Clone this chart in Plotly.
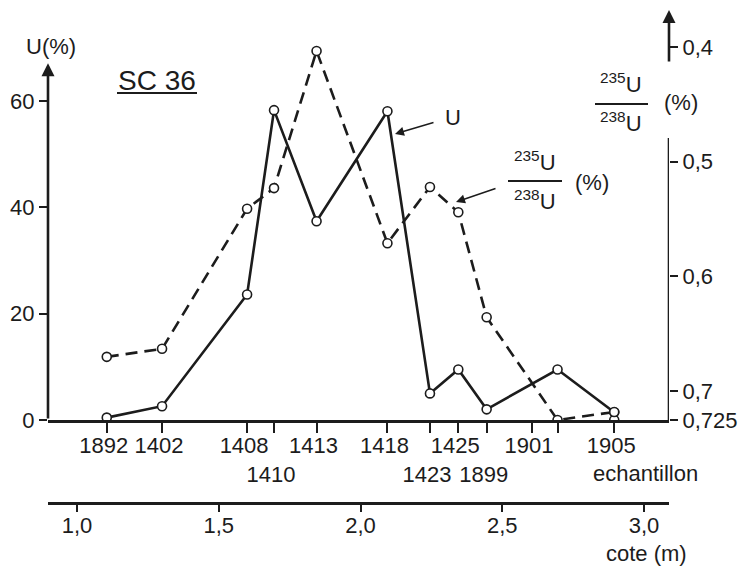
import plotly.graph_objects as go

# ---------------- data ----------------
depth_m = [1.105, 1.30, 1.60, 1.695, 1.845, 2.095, 2.245, 2.345, 2.445, 2.695, 2.895]
u_pct = [0.45, 2.6, 23.6, 58.3, 37.4, 58.1, 5.0, 9.5, 2.0, 9.5, 1.45]
ratio_pct = [0.670, 0.663, 0.541, 0.523, 0.4036, 0.571, 0.522, 0.544, 0.6355, 0.725, 0.718]
extra_x = [2.895]
extra_u = [0.0]

sample_ticks = [1.105, 1.30, 1.60, 1.695, 1.845, 2.095, 2.245, 2.345, 2.445, 2.605, 2.695, 2.895]
sample_labels = ["1892", "1402", "1408", "<br>1410", "1413", "1418", "<br>1423",
                 "1425", "<br>1899", "1901", "", "1905"]
u_ticks = [0, 20, 40, 60]
ratio_ticks = [0.4, 0.5, 0.6, 0.7, 0.725]
ratio_labels = ["0,4", "0,5", "0,6", "0,7", "0,725"]
cote_ticks = [1.0, 1.5, 2.0, 2.5, 3.0]
cote_labels = ["1,0", "1,5", "2,0", "2,5", "3,0"]

X_RANGE = [0.8977, 3.0882]
U_RANGE = [0, 77.14]
R_RANGE = [0.725, 0.3679]

INK = "#1c1c1c"
FONT = "Liberation Sans, Arial, sans-serif"
W, H = 741, 566
ML, MR, MT, MB = 48, 72, 10, 10
PW, PH = W - ML - MR, H - MT - MB


def xp(px):
    return (px - ML) / PW


def yp(py):
    return (H - MB - py) / PH


fig = go.Figure()

fig.add_trace(go.Scatter(
    x=depth_m, y=ratio_pct, yaxis="y2", mode="lines+markers",
    line=dict(color=INK, width=2.6, dash="12px,7px"),
    marker=dict(symbol="circle", size=9, color="white", line=dict(color=INK, width=1.6)),
    hoverinfo="skip", showlegend=False))
fig.add_trace(go.Scatter(
    x=depth_m, y=u_pct, mode="lines+markers",
    line=dict(color=INK, width=2.6),
    marker=dict(symbol="circle", size=9, color="white", line=dict(color=INK, width=1.6)),
    hoverinfo="skip", showlegend=False))
fig.add_trace(go.Scatter(
    x=extra_x, y=extra_u, mode="markers",
    marker=dict(symbol="circle", size=9, color="white", line=dict(color=INK, width=1.6)),
    hoverinfo="skip", showlegend=False))
# dummy trace so the depth axis is drawn
fig.add_trace(go.Scatter(x=[1.0], y=[0], xaxis="x2", mode="markers",
                         marker=dict(opacity=0), hoverinfo="skip", showlegend=False))

ydom0 = yp(420)
tickfont = dict(family=FONT, size=22, color=INK)

fig.update_layout(
    width=W, height=H,
    margin=dict(l=ML, r=MR, t=MT, b=MB, autoexpand=False),
    paper_bgcolor="white", plot_bgcolor="white",
    font=dict(family=FONT, size=22, color=INK),
    xaxis=dict(range=X_RANGE, domain=[0, 1], anchor="y",
               tickvals=sample_ticks, ticktext=sample_labels, tickangle=0,
               ticks="outside", ticklen=10, tickwidth=2, tickcolor=INK,
               showline=True, linewidth=2.6, linecolor=INK,
               showgrid=False, zeroline=False, tickfont=tickfont,
               ticklabelshift=-3, ticklabelstandoff=-6, automargin=False),
    xaxis2=dict(range=X_RANGE, domain=[0, 1], anchor="free", position=yp(503),
                overlaying="x", side="bottom", tickangle=0,
                tickvals=cote_ticks, ticktext=cote_labels,
                ticks="outside", ticklen=7, tickwidth=2, tickcolor=INK,
                showline=True, linewidth=2.6, linecolor=INK,
                showgrid=False, zeroline=False, tickfont=tickfont,
                ticklabelstandoff=-5, automargin=False),
    yaxis=dict(range=U_RANGE, domain=[ydom0, 1], anchor="x",
               tickvals=u_ticks, ticks="outside", ticklen=8, tickwidth=2,
               tickcolor=INK, showline=False, showgrid=False, zeroline=False,
               tickfont=tickfont, automargin=False),
    yaxis2=dict(range=R_RANGE, overlaying="y", side="right", anchor="x",
                tickvals=ratio_ticks, ticktext=ratio_labels,
                ticks="outside", ticklen=8, tickwidth=2, tickcolor=INK,
                showline=False, showgrid=False, zeroline=False, tickfont=tickfont,
                automargin=False),
)

# left axis line with arrow
fig.add_annotation(x=X_RANGE[0], y=(419.7 - 63) / 5.315, xref="x", yref="y",
                   ax=X_RANGE[0], ay=0, axref="x", ayref="y", text="",
                   showarrow=True, arrowhead=2, arrowsize=1, arrowwidth=2.6,
                   arrowcolor=INK)
# right axis: lower segment and upper arrow segment
fig.add_shape(type="line", xref="x", yref="y2", x0=X_RANGE[1], x1=X_RANGE[1],
              y0=0.725, y1=0.4794, line=dict(color=INK, width=2.6))
fig.add_annotation(x=X_RANGE[1], y=0.3679, xref="x", yref="y2",
                   ax=X_RANGE[1], ay=0.414, axref="x", ayref="y2", text="",
                   showarrow=True, arrowhead=2, arrowsize=1, arrowwidth=2.6,
                   arrowcolor=INK)


def label(cx, cy, text, size=22):
    fig.add_annotation(x=xp(cx), y=yp(cy), xref="paper", yref="paper", text=text,
                       xanchor="center", yanchor="middle", showarrow=False,
                       font=dict(size=size))


# axis titles
label(51, 47, "U(%)")
label(157, 80, "SC 36", 28)
fig.add_shape(type="line", xref="paper", yref="paper", x0=xp(117), x1=xp(197),
              y0=yp(93), y1=yp(93), line=dict(color=INK, width=2.2))


def fraction(cx, ytop, ybar, ybot, x0, x1, pct_x, pct_y):
    label(cx, ytop, "<sup>235</sup>U")
    label(cx, ybot, "<sup>238</sup>U")
    fig.add_shape(type="line", xref="paper", yref="paper", x0=xp(x0), x1=xp(x1),
                  y0=yp(ybar), y1=yp(ybar), line=dict(color=INK, width=2.2))
    label(pct_x, pct_y, "(%)")


fraction(621, 83, 104, 122, 595, 648, 681, 103)
fraction(535, 161, 181, 200, 508, 562, 592, 182)

# callouts
label(453, 118, "U")
fig.add_annotation(x=xp(395), y=yp(134), xref="paper", yref="paper", text="",
                   ax=40, ay=-12, showarrow=True, arrowhead=2, arrowsize=1.2,
                   arrowwidth=1.5, arrowcolor=INK)
fig.add_annotation(x=xp(456), y=yp(202), xref="paper", yref="paper", text="",
                   ax=41, ay=-14, showarrow=True, arrowhead=2, arrowsize=1.2,
                   arrowwidth=1.5, arrowcolor=INK)

label(645, 473, "echantillon")
label(646, 553, "cote (m)")

fig.write_html("out.html", config={"displayModeBar": False},
               post_script="document.body.style.margin='0px';")
